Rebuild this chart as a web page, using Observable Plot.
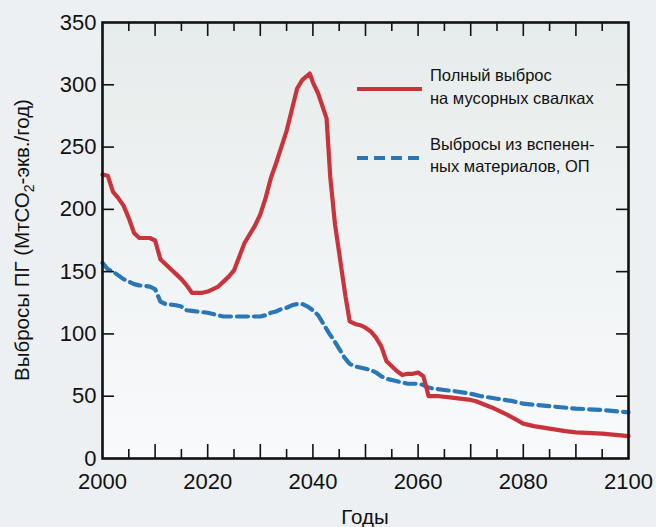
<!DOCTYPE html>
<html><head><meta charset="utf-8">
<script src="https://cdn.jsdelivr.net/npm/d3@7"></script>
<script src="https://cdn.jsdelivr.net/npm/@observablehq/plot@0.6"></script>
<style>
html,body{margin:0;padding:0;background:#edf0f3;}
svg{display:block}
</style></head>
<body><div id="chart"></div>
<script>
// Полный выброс на мусорных свалках
const landfillYears = [2000,2001,2002,2003,2004,2005,2006,2007,2008,2009,2010,2011,2012,2013,2014,2015,2016,2017,2018,2019,2020,2021,2022,2023,2024,2025,2026,2027,2028,2029,2030,2031,2032,2033,2034,2035,2036,2037,2038,2039.4,2040,2041,2042.6,2043.3,2044.2,2045.2,2046.2,2047,2048,2049,2050,2051,2052,2053,2054,2055,2056,2057,2058,2059,2060,2061,2062,2064,2066,2068,2070,2071,2074,2077,2080,2082,2085,2088,2090,2095,2100];
const landfillValues = [228,227,214,209,203,193,181,177,177,177,175,160,156,152,148,144,139,133,133,133,134,136,138,142,146,151,162,173,180,187,196,209,225,237,250,263,280,297,304,309,302,293,273,226,188,159,130,110,108,107,105,102,97,90,78,74,70,67,68,68,69,66,50,50,49,48,47,46,41,35,28,26,24,22,21,20,18];

// Выбросы из вспененных материалов, ОП
const foamYears = [2000,2001,2002,2003,2004,2005,2006,2007,2008,2009,2010,2011,2012,2013,2014,2015,2016,2017,2018,2019,2020,2021,2022,2023,2024,2026,2028,2030,2031,2032,2033,2034,2035,2036,2037,2038,2039,2040,2041,2042,2043,2044,2045,2046,2047,2048,2049,2050,2051,2052,2053,2054,2055,2056,2057,2058,2059,2060,2061,2062,2063,2065,2067,2070,2072,2075,2078,2080,2085,2090,2095,2100];
const foamValues = [157,152,150,147,144,142,140,139,138.5,138,136,126,124,123.5,123,122,119,118.5,118,117.5,117,116,115,114,114,114,114,114,115,117,118,120,121,123,124,124,122,119,115,108,101,95,88,81,76,74,73,72,71,69,66,64,63,62,61,60,60,60,59,57,56,55,54,52,50,48,46,44,42,40,39,37];

const xLabelTicks = [2000,2020,2040,2060,2080,2100];
const xMajorTicks = [2010,2020,2030,2040,2050,2060,2070,2080,2090];
const xMinorTicks = [2005,2015,2025,2035,2045,2055,2065,2075,2085,2095];
const yLabelTicks = [0,50,100,150,200,250,300,350];
const yInnerTicks = [50,100,150,200,250,300];

const landfill = landfillYears.map((year, i) => ({year, value: landfillValues[i]}));
const foam = foamYears.map((year, i) => ({year, value: foamValues[i]}));

const RED = "#c9333b";
const BLUE = "#2a77b8";

const W = 656, H = 527, ML = 102, MR = 28, MT = 22, MB = 69;
const FW = W - ML - MR, FH = H - MT - MB;
const tickStyle = {stroke: "#111", strokeWidth: 1.6};

const chart = Plot.plot({
  width: W,
  height: H,
  marginLeft: ML,
  marginRight: MR,
  marginTop: MT,
  marginBottom: MB,
  style: {background: "#edf0f3", fontFamily: "'Liberation Sans', Arial, sans-serif", fontSize: "22px", color: "#111"},
  x: {domain: [2000, 2100]},
  y: {domain: [0, 350]},
  marks: [
    Plot.frame({fill: "url(#plotbg)", stroke: "none"}),
    Plot.line(foam, {x: "year", y: "value", stroke: BLUE, strokeWidth: 4.2, strokeDasharray: "11,6"}),
    Plot.line(landfill, {x: "year", y: "value", stroke: RED, strokeWidth: 4.2}),
    Plot.axisX({anchor: "bottom", ticks: xLabelTicks, tickSize: 0, tickPadding: 15, tickFormat: d => String(d), label: null, fontSize: 22}),
    Plot.axisY({anchor: "left", ticks: yLabelTicks, tickSize: 0, tickPadding: 6, label: null, fontSize: 22}),
    // inward ticks: bottom & top
    Plot.tickX(xMajorTicks, {x: d => d, insetTop: FH - 14, ...tickStyle}),
    Plot.tickX(xMinorTicks, {x: d => d, insetTop: FH - 9, ...tickStyle}),
    Plot.tickX(xMajorTicks, {x: d => d, insetBottom: FH - 14, ...tickStyle}),
    Plot.tickX(xMinorTicks, {x: d => d, insetBottom: FH - 9, ...tickStyle}),
    // inward ticks: left & right
    Plot.tickY(yInnerTicks, {y: d => d, insetRight: FW - 12, ...tickStyle}),
    Plot.tickY(yInnerTicks, {y: d => d, insetLeft: FW - 12, ...tickStyle}),
    Plot.frame({stroke: "#111", strokeWidth: 2.6})
  ]
});

const svg = d3.select(chart);
const grad = svg.insert("defs", ":first-child").append("linearGradient")
  .attr("id", "plotbg").attr("x1", 0).attr("y1", 0).attr("x2", 0).attr("y2", 1);
grad.append("stop").attr("offset", "0%").attr("stop-color", "#e6eceb");
grad.append("stop").attr("offset", "100%").attr("stop-color", "#f9fafb");

const font = "'Liberation Sans', Arial, sans-serif";

// Y axis title
const yt = svg.append("text")
  .attr("transform", "translate(29,240) rotate(-90)")
  .attr("text-anchor", "middle")
  .attr("font-family", font).attr("font-size", 20.5).attr("fill", "#111");
yt.append("tspan").text("Выбросы ПГ (МтСО");
yt.append("tspan").text("2").attr("font-size", 14).attr("dy", 5);
yt.append("tspan").text("-экв./год)").attr("dy", -5);

// X axis title
svg.append("text")
  .attr("x", ML + FW / 2).attr("y", 524)
  .attr("text-anchor", "middle")
  .attr("font-family", font).attr("font-size", 20.5).attr("fill", "#111")
  .text("Годы");

// Legend
const lg = svg.append("g").attr("font-family", font).attr("font-size", 16.5)
  .attr("fill", "#111").attr("text-anchor", "start");
lg.append("line").attr("x1", 357).attr("x2", 422).attr("y1", 89).attr("y2", 89)
  .attr("stroke", RED).attr("stroke-width", 4.2);
lg.append("text").attr("x", 430).attr("y", 81).text("Полный выброс");
lg.append("text").attr("x", 430).attr("y", 104).text("на мусорных свалках");
lg.append("line").attr("x1", 357).attr("x2", 420).attr("y1", 158).attr("y2", 158)
  .attr("stroke", BLUE).attr("stroke-width", 4.2).attr("stroke-dasharray", "11,6");
lg.append("text").attr("x", 430).attr("y", 150).text("Выбросы из вспенен-");
lg.append("text").attr("x", 430).attr("y", 172).text("ных материалов, ОП");

document.getElementById("chart").appendChild(chart);
</script>
</body></html>
